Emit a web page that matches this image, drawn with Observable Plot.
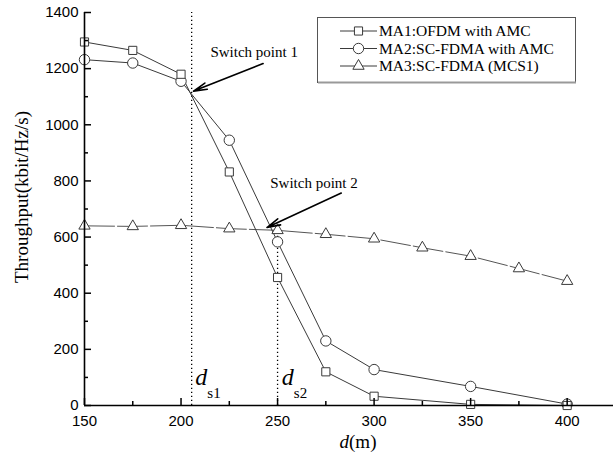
<!DOCTYPE html>
<html><head><meta charset="utf-8">
<script src="https://cdn.jsdelivr.net/npm/d3@7"></script>
<script src="https://cdn.jsdelivr.net/npm/@observablehq/plot@0.6"></script>
<style>body{margin:0;background:#fff}</style>
</head><body><div id="chart"></div>
<script>
// ---- data ----
const dMA1 = [150,175,200,225,250,275,300,350,400];
const ma1  = [1295,1265,1180,832,456,120,33,4,0];
const dMA2 = [150,175,200,225,250,275,300,350,400];
const ma2  = [1232,1220,1155,945,583,230,128,68,5];
const dMA3 = [150,175,200,225,250,275,300,325,350,375,400];
const ma3  = [640,638,642,630,624,610,594,562,532,488,443];
const seriesNames = ["MA1:OFDM with AMC","MA2:SC-FDMA with AMC","MA3:SC-FDMA (MCS1)"];
const xTicks = [150,200,250,300,350,400];
const xMinor = [175,225,275,325,375];
const yTicks = [0,200,400,600,800,1000,1200,1400];
const yMinor = [100,300,500,700,900,1100,1300];
const switchD = [205.5,250];
const switchTop = [1400,625];
const switchLabels = ["Switch point 1","Switch point 2"];
const switchLabelD = [215.2,246.2];
const switchLabelT = [1257,791];
const arrowFromD = [242.5,283];
const arrowFromT = [1218,757];
const arrowToD = [206.5,244.5];
const arrowToT = [1120,634];
const dsNames = ["s1","s2"];
const dsD = [207.4,252.2];

const W = 613, H = 457;
const mL = 84, mR = 0, mT = 12, mB = 52;
const pw = W - mL - mR, ph = H - mT - mB;

const rows = (xs, ys) => xs.map((x,i)=>({d:x, t:ys[i]}));
const s1 = rows(dMA1, ma1), s2 = rows(dMA2, ma2), s3 = rows(dMA3, ma3);
const sw = switchD.map((d,i)=>({d, top: switchTop[i]}));
const lab = switchLabels.map((t,i)=>({text:t, d:switchLabelD[i], t:switchLabelT[i]}));
const arr = arrowFromD.map((d,i)=>({x1:d, y1:arrowFromT[i], x2:arrowToD[i], y2:arrowToT[i]}));
const ds = dsNames.map((s,i)=>({s, d: dsD[i]}));

const col = "#3a3a3a";
const serif = "'Liberation Serif', 'Times New Roman', serif";

const chart = Plot.plot({
  width: W, height: H,
  marginLeft: mL, marginRight: mR, marginTop: mT, marginBottom: mB,
  style: {fontFamily: "'Liberation Sans', Arial, sans-serif", fontSize: "15px", color: "#000", background: "#fff"},
  x: {domain: [150, 424]},
  y: {domain: [0, 1400]},
  marks: [
    Plot.ruleX(sw, {x: "d", y1: 0, y2: "top", stroke: "#000", strokeWidth: 1.3, strokeDasharray: "1.3,2.7"}),
    Plot.line(s3, {x: "d", y: "t", stroke: "#555", strokeWidth: 1, strokeDasharray: "30,3"}),
    Plot.line(s2, {x: "d", y: "t", stroke: col, strokeWidth: 1}),
    Plot.line(s1, {x: "d", y: "t", stroke: col, strokeWidth: 1}),
    Plot.dot(s3, {x: "d", y: "t", symbol: "triangle", r: 4.2, fill: "white", stroke: col, strokeWidth: 1}),
    Plot.dot(s2, {x: "d", y: "t", symbol: "circle", r: 5.2, fill: "white", stroke: col, strokeWidth: 1}),
    Plot.dot(s1, {x: "d", y: "t", symbol: "square", r: 4.6, fill: "white", stroke: col, strokeWidth: 1}),
    Plot.arrow(arr, {x1: "x1", y1: "y1", x2: "x2", y2: "y2", stroke: "#000", strokeWidth: 1.6, headLength: 13, headAngle: 28}),
    Plot.text(lab, {x: "d", y: "t", text: "text", textAnchor: "start", fontFamily: serif, fontSize: 15, fill: "#000"}),
    Plot.text(ds, {x: "d", y: 100, text: () => "d", textAnchor: "start", fontFamily: serif, fontStyle: "italic", fontSize: 24, fill: "#000"}),
    Plot.text(ds, {x: "d", y: 45, text: "s", textAnchor: "start", dx: 12, fontFamily: serif, fontSize: 15, fill: "#000"}),
    // axes lines
    Plot.ruleY([0], {stroke: "#000", strokeWidth: 1.6}),
    Plot.ruleX([150], {stroke: "#000", strokeWidth: 1.6}),
    // inward ticks
    Plot.tickX(xTicks, {x: d => d, insetTop: ph - 7, stroke: "#000", strokeWidth: 1.5}),
    Plot.tickX(xMinor, {x: d => d, insetTop: ph - 4, stroke: "#000", strokeWidth: 1.5}),
    Plot.tickY(yTicks, {y: d => d, insetRight: pw - 7, stroke: "#000", strokeWidth: 1.5}),
    Plot.tickY(yMinor, {y: d => d, insetRight: pw - 4, stroke: "#000", strokeWidth: 1.5}),
    Plot.axisX({ticks: xTicks, tickSize: 0, tickPadding: 10, tickFormat: "d", label: null}),
    Plot.axisY({ticks: yTicks, tickSize: 0, tickPadding: 6, tickFormat: "d", label: null})
  ]
});

const svg = d3.select(chart);
// y axis title
svg.append("text")
  .attr("transform", "translate(28,197) rotate(-90)")
  .attr("text-anchor", "middle")
  .attr("font-family", serif).attr("font-size", 19).attr("fill", "#000")
  .text("Throughput(kbit/Hz/s)");
// x axis title
const xt = svg.append("text")
  .attr("x", 358).attr("y", 448)
  .attr("text-anchor", "middle")
  .attr("font-family", serif).attr("font-size", 19).attr("fill", "#000");
xt.append("tspan").attr("font-style", "italic").text("d");
xt.append("tspan").text("(m)");

// legend
const lg = svg.append("g");
lg.append("rect").attr("x", 317.5).attr("y", 17.5).attr("width", 258).attr("height", 65)
  .attr("fill", "white").attr("stroke", "#555").attr("stroke-width", 1);
lg.append("line").attr("x1", 318).attr("x2", 576).attr("y1", 82.5).attr("y2", 82.5).attr("stroke", "#999").attr("stroke-width", 2);
const syms = [d3.symbolSquare, d3.symbolCircle, d3.symbolTriangle];
const rr = [4.6, 5.2, 4.2];
const rowY = [31, 48.5, 66];
seriesNames.forEach((name, i) => {
  const y = rowY[i];
  lg.append("line").attr("x1", 340).attr("x2", 377).attr("y1", y).attr("y2", y)
    .attr("stroke", col).attr("stroke-width", 1);
  lg.append("path").attr("d", d3.symbol(syms[i], Math.PI * rr[i] * rr[i])())
    .attr("transform", `translate(358.5,${y})`).attr("fill", "white").attr("stroke", col);
  lg.append("text").attr("x", 379).attr("y", y).attr("dy", "0.35em")
    .attr("text-anchor", "start")
    .attr("font-family", serif).attr("font-size", 15.5).attr("fill", "#000").text(name);
});

document.getElementById("chart").appendChild(chart);
</script>
</body></html>
